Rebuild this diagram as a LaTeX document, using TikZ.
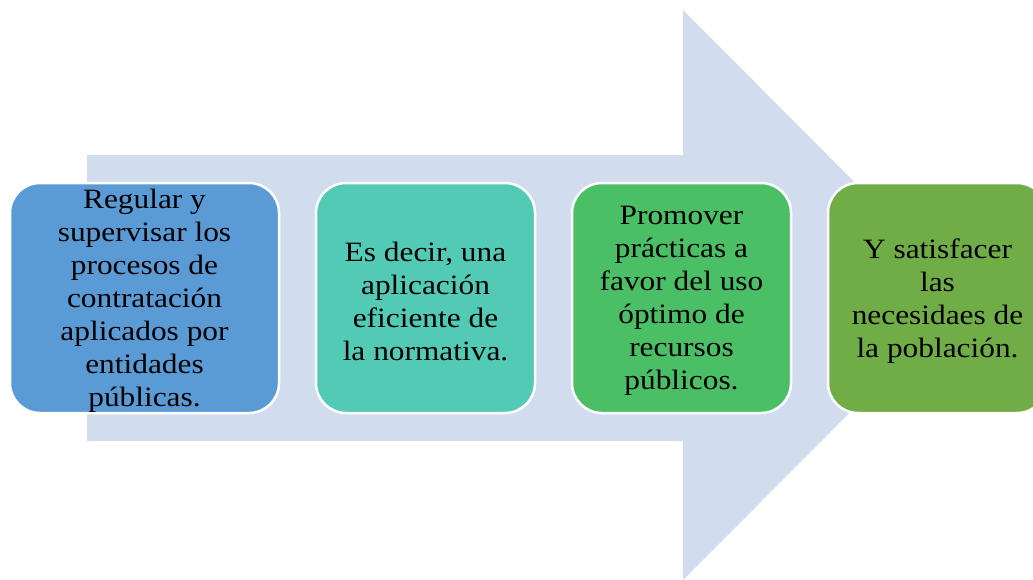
\documentclass[tikz,border=0pt]{standalone}
\usepackage{fontspec}
\setmainfont{Liberation Serif}[FakeStretch=1.12]
\definecolor{arrowfill}{HTML}{D1DCEE}
\definecolor{cA}{HTML}{5B9BD5}
\definecolor{cB}{HTML}{52CAB6}
\definecolor{cC}{HTML}{4ABF65}
\definecolor{cD}{HTML}{70AD47}
\tikzset{
  stepbox/.style={draw=white, line width=2.5pt, rounded corners=30pt, inner sep=0pt,
    minimum height=230pt},
  steptext/.style={align=center, text=black, inner sep=0pt, yshift=-3pt,
    font=\fontsize{28}{33}\selectfont},
}
\begin{document}
\begin{tikzpicture}[x=1pt,y=-1pt]
\useasboundingbox (0,0) rectangle (1033,579);
\clip (0,0) rectangle (1033,579);
\fill[arrowfill] (87,155) -- (683,155) -- (683,10) -- (967,295) -- (683,580) -- (683,441) -- (87,441) -- cycle;
\node[stepbox, fill=cA, minimum width=269pt] (b1) at (144.5,298) {};
\node[stepbox, fill=cB, minimum width=219pt] (b2) at (425.5,298) {};
\node[stepbox, fill=cC, minimum width=219pt] (b3) at (681.5,298) {};
\node[stepbox, fill=cD, minimum width=219pt] (b4) at (937.5,298) {};
\node[steptext] (t1) at (b1.center)
  {Regular y\\supervisar los\\procesos de\\contratación\\aplicados por\\entidades\\públicas.};
\node[steptext] (t2) at (b2.center)
  {Es decir, una\\aplicación\\eficiente de\\la normativa.};
\node[steptext] (t3) at (b3.center)
  {Promover\\prácticas a\\favor del uso\\óptimo de\\recursos\\públicos.};
\node[steptext] (t4) at (b4.center)
  {Y satisfacer\\las\\necesidaes de\\la población.};
\end{tikzpicture}
\end{document}
